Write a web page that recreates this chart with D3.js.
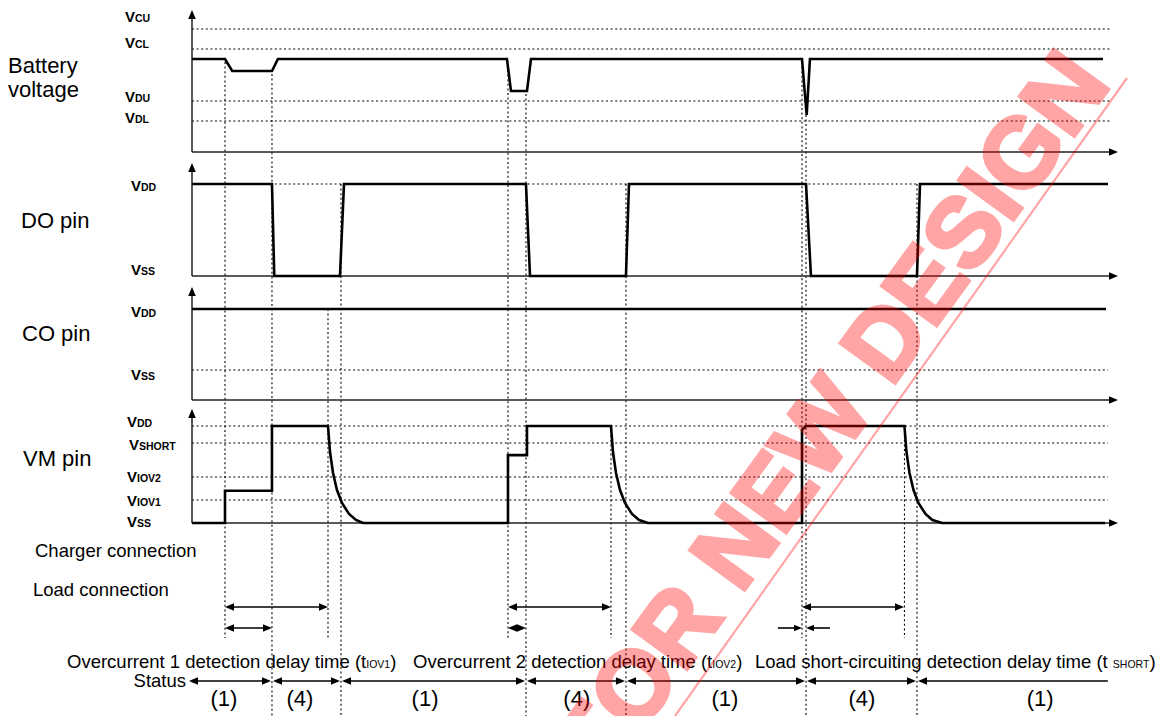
<!DOCTYPE html>
<html>
<head>
<meta charset="utf-8">
<script src="https://cdn.jsdelivr.net/npm/d3@7"></script>
<style>
body { margin: 0; background: #fff; }
svg { display: block; font-family: "Liberation Sans", Arial, sans-serif; }
</style>
</head>
<body>
<svg id="chart" width="1166" height="716"></svg>
<script>
// time in arbitrary units (0 = left axis, 100 = right end of traces)
const batteryT = [0, 3.61, 4.4, 8.75, 9.4, 34.46, 34.9, 36.65, 37.09, 66.74, 67.25, 67.61, 99.67];
const batteryV = [9.3, 9.3, 8.1, 8.1, 9.3, 9.3, 6.1, 6.1, 9.3, 9.3, 3.7, 9.3, 9.3];

const doT = [0, 8.75, 9.0, 16.19, 16.63, 36.54, 36.98, 47.48, 47.81, 67.18, 67.72, 79.32, 79.65, 100.22];
const doV = [1, 1, 0, 0, 1, 1, 0, 0, 1, 1, 0, 0, 1, 1];

const coT = [0, 100];
const coV = [1, 1];

const vmT = [0, 3.61, 3.61, 8.75, 8.75, 14.88,
  15.10, 15.43, 15.86, 16.41, 17.18, 17.94, 18.71,
  34.57, 34.57, 36.65, 36.65, 45.84,
  46.06, 46.39, 46.83, 47.37, 48.14, 48.91, 49.89,
  66.74, 66.74, 67.18, 77.95,
  78.17, 78.50, 78.94, 79.48, 80.25, 81.01, 82.06, 99.9];
const vmV = [0, 0, 0.333, 0.333, 1, 1,
  0.732, 0.515, 0.340, 0.206, 0.093, 0.031, 0,
  0, 0.70, 0.70, 1, 1,
  0.732, 0.515, 0.340, 0.206, 0.093, 0.031, 0,
  0, 0.96, 1, 1,
  0.732, 0.515, 0.340, 0.206, 0.093, 0.031, 0, 0];

// threshold levels
const batteryLevelNames = ["CU", "CL", "DU", "DL"];
const batteryLevels = [12.3, 10.3, 5.1, 3.1];
const doLevelNames = ["DD", "SS"];
const doLevels = [1, 0];
const coLevelNames = ["DD", "SS"];
const coLevels = [1, 0.33];
const vmLevelNames = ["DD", "SHORT", "IOV2", "IOV1", "SS"];
const vmLevels = [1, 0.825, 0.474, 0.237, 0];

// vertical guide lines
const guideT = [3.61, 8.75, 14.88, 16.30, 34.57, 36.54, 45.84, 47.48, 66.74, 67.18, 77.95, 79.32];
const guideFrom = ["bat", "bat", "co", "do", "bat", "bat", "vm", "do", "bat", "bat", "vm", "do"];
const guideLong = [false, true, false, true, false, true, false, true, false, true, false, true];

// delay time arrows
const delayLong = [[3.61, 14.88], [34.57, 45.84], [66.74, 77.9]];
const delayShort = [[3.61, 8.75], [34.57, 36.54]];
const shortInward = [[64.1, 66.74], [69.8, 67.18]];

// status row
const statusBounds = [-0.44, 8.75, 16.30, 36.54, 47.48, 67.18, 79.32, 100.2];
const statusLabels = ["(1)", "(4)", "(1)", "(4)", "(1)", "(4)", "(1)"];
const statusLabelT = [3.5, 11.8, 25.5, 42.1, 58.3, 73.3, 92.8];

const captionMain = ["Overcurrent 1 detection delay time (t", "Overcurrent 2 detection delay time (t", "Load short-circuiting detection delay time (t "];
const captionSub = ["IOV1", "IOV2", "SHORT"];

const svg = d3.select("#chart");
const x = d3.scaleLinear().domain([0, 100]).range([192, 1106]);

const batY = d3.scaleLinear().domain([0, 14]).range([152, 12]);
const doY = d3.scaleLinear().domain([0, 1]).range([276, 184]);
const coY = d3.scaleLinear().domain([0, 1]).range([400, 309]);
const vmY = d3.scaleLinear().domain([0, 1]).range([523, 426]);

const panels = [
  { key: "bat", y: batY, tip: 10 },
  { key: "do", y: doY, tip: 163 },
  { key: "co", y: coY, tip: 287 },
  { key: "vm", y: vmY, tip: 409 }
];

const zip = (ts, vs) => ts.map((t, i) => [t, vs[i]]);

function head(g, px, py, dir, len = 9, half = 3.8) {
  let pts;
  if (dir === "up") pts = [[px, py], [px - half, py + len], [px + half, py + len]];
  if (dir === "right") pts = [[px, py], [px - len, py - half], [px - len, py + half]];
  if (dir === "left") pts = [[px, py], [px + len, py - half], [px + len, py + half]];
  g.append("path").attr("d", "M" + pts.join("L") + "Z").attr("fill", "#000");
}

const dotted = svg.append("g")
  .attr("stroke", "#000")
  .attr("stroke-width", 1.1)
  .attr("stroke-dasharray", "2,2.6")
  .attr("fill", "none");

// horizontal threshold lines
batteryLevels.forEach(v => dotted.append("line")
  .attr("x1", x(0)).attr("x2", 1112).attr("y1", batY(v)).attr("y2", batY(v)));
dotted.append("line").attr("x1", x(0)).attr("x2", 1108).attr("y1", doY(1)).attr("y2", doY(1));
dotted.append("line").attr("x1", x(0)).attr("x2", 1108).attr("y1", coY(coLevels[1])).attr("y2", coY(coLevels[1]));
vmLevels.slice(0, 4).forEach(v => dotted.append("line")
  .attr("x1", x(0)).attr("x2", 1108).attr("y1", vmY(v)).attr("y2", vmY(v)));

// battery level at time t (for guide start)
function batAt(t) {
  const i = d3.bisectRight(batteryT, t);
  if (i <= 0) return batteryV[0];
  if (i >= batteryT.length) return batteryV[batteryV.length - 1];
  const t0 = batteryT[i - 1], t1 = batteryT[i];
  const k = (t - t0) / (t1 - t0 || 1);
  return batteryV[i - 1] + (batteryV[i] - batteryV[i - 1]) * k;
}

guideT.forEach((t, i) => {
  let y0;
  if (guideFrom[i] === "bat") y0 = batY(batAt(t)) + 3;
  else if (guideFrom[i] === "do") y0 = doY(1);
  else if (guideFrom[i] === "co") y0 = coY(1);
  else y0 = vmY(1);
  dotted.append("line")
    .attr("x1", x(t)).attr("x2", x(t))
    .attr("y1", y0).attr("y2", guideLong[i] ? 716 : 638);
});

// axes
const axes = svg.append("g");
panels.forEach(p => {
  const by = p.y(0);
  axes.append("line").attr("x1", x(0)).attr("x2", x(0)).attr("y1", by).attr("y2", p.tip + 6)
    .attr("stroke", "#222").attr("stroke-width", 1.5);
  head(axes, x(0), p.tip, "up");
  axes.append("line").attr("x1", x(0)).attr("x2", 1112).attr("y1", by).attr("y2", by)
    .attr("stroke", "#222").attr("stroke-width", 1.5);
  head(axes, 1118, by, "right");
});

// signals
const sig = svg.append("g").attr("fill", "none").attr("stroke", "#000")
  .attr("stroke-width", 2.6).attr("stroke-linejoin", "miter");
sig.append("path").attr("d", d3.line().x(d => x(d[0])).y(d => batY(d[1]))(zip(batteryT, batteryV)));
sig.append("path").attr("d", d3.line().x(d => x(d[0])).y(d => doY(d[1]))(zip(doT, doV)));
sig.append("path").attr("d", d3.line().x(d => x(d[0])).y(d => coY(d[1]))(zip(coT, coV)));
sig.append("path").attr("d", d3.line().x(d => x(d[0])).y(d => vmY(d[1]))(zip(vmT, vmV)));

// level labels
function vLabel(px, py, sub) {
  const t = svg.append("text").attr("x", px).attr("y", py)
    .attr("font-weight", "bold").attr("font-size", 15).attr("fill", "#000");
  t.append("tspan").text("V");
  t.append("tspan").attr("font-size", 10.5).text(sub);
}
const batLabelDy = [-7, -1.5, 1, 2];
batteryLevels.forEach((v, i) => vLabel(125, batY(v) + batLabelDy[i], batteryLevelNames[i]));
const doLabelDy = [6.5, -1];
doLevels.forEach((v, i) => vLabel(131, doY(v) + doLabelDy[i], doLevelNames[i]));
const coLabelDy = [8, 10];
coLevels.forEach((v, i) => vLabel(131, coY(v) + coLabelDy[i], coLevelNames[i]));
const vmLabelX = [127, 129, 127, 127, 127];
const vmLabelDy = [1, 7, 5, 6, 4];
vmLevels.forEach((v, i) => vLabel(vmLabelX[i], vmY(v) + vmLabelDy[i], vmLevelNames[i]));

// left titles
const titles = svg.append("g").attr("font-size", 22).attr("fill", "#000");
titles.append("text").attr("x", 8).attr("y", 73).text("Battery");
titles.append("text").attr("x", 8).attr("y", 97).text("voltage");
titles.append("text").attr("x", 21).attr("y", 228).text("DO pin");
titles.append("text").attr("x", 22).attr("y", 341).text("CO pin");
titles.append("text").attr("x", 23).attr("y", 466).text("VM pin");

const body = svg.append("g").attr("font-size", 18.5).attr("fill", "#000");
body.append("text").attr("x", 35).attr("y", 557).text("Charger connection");
body.append("text").attr("x", 33).attr("y", 596).text("Load connection");

// delay arrows
const arr = svg.append("g");
function hline(y, a, b) {
  arr.append("line").attr("x1", a).attr("x2", b).attr("y1", y).attr("y2", y)
    .attr("stroke", "#000").attr("stroke-width", 1.6);
}
delayLong.forEach(([a, b]) => {
  hline(607, x(a) + 4, x(b) - 4);
  head(arr, x(a), 607, "left");
  head(arr, x(b), 607, "right");
});
delayShort.forEach(([a, b]) => {
  hline(628, x(a) + 4, x(b) - 4);
  head(arr, x(a), 628, "left");
  head(arr, x(b), 628, "right");
});
shortInward.forEach(([a, b]) => {
  hline(628, x(a), x(b) + (b > a ? -4 : 4));
  head(arr, x(b), 628, b > a ? "right" : "left", 8, 3.2);
});

// captions
const capX = [67, 413, 755];
captionMain.forEach((s, i) => {
  const t = body.append("text").attr("x", capX[i]).attr("y", 668);
  t.append("tspan").text(s);
  t.append("tspan").attr("font-size", 10.5).text(captionSub[i]);
  t.append("tspan").text(")");
});

// status row
body.append("text").attr("x", 186).attr("y", 687).attr("text-anchor", "end").text("Status");
for (let i = 0; i < statusBounds.length - 1; i++) {
  const a = x(statusBounds[i]), b = x(statusBounds[i + 1]);
  const last = i === statusBounds.length - 2;
  hline(681, a + 3, last ? b : b - 3);
  head(arr, a + 1, 681, "left");
  if (!last) head(arr, b - 1, 681, "right");
}
statusLabels.forEach((s, i) => svg.append("text")
  .attr("x", x(statusLabelT[i])).attr("y", 706)
  .attr("text-anchor", "middle").attr("font-size", 22).text(s));

// watermark
const wm = svg.append("g").attr("opacity", 0.35);
wm.append("text")
  .attr("transform", "translate(1112,84) rotate(-54)")
  .attr("text-anchor", "end")
  .attr("font-weight", "bold").attr("font-size", 98)
  .attr("fill", "#ff0000")
  .attr("stroke", "#ff0000").attr("stroke-width", 4).attr("stroke-linejoin", "miter")
  .text("NOT FOR NEW DESIGN");
wm.append("line").attr("x1", 1127).attr("y1", 78).attr("x2", 675).attr("y2", 716)
  .attr("stroke", "#ff0000").attr("stroke-width", 2.2);
</script>
</body>
</html>
